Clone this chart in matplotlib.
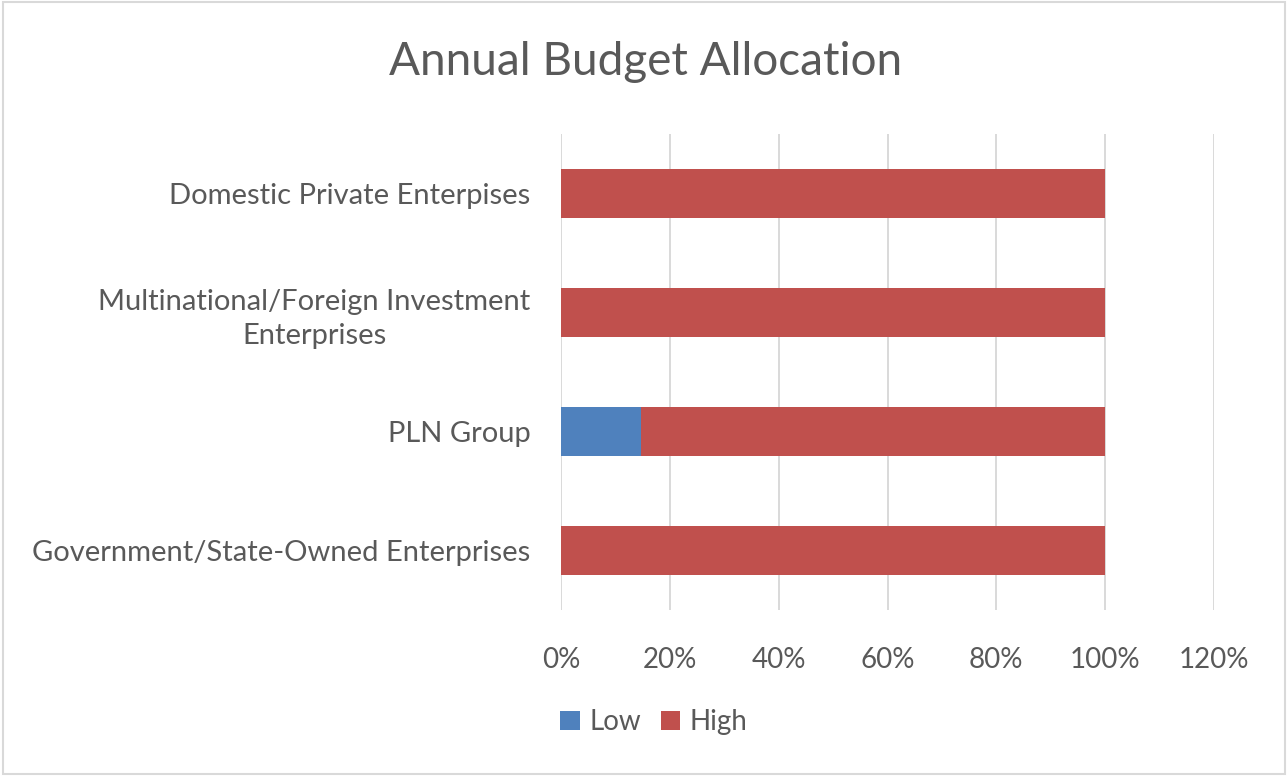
import matplotlib.pyplot as plt
from matplotlib.patches import Rectangle
from matplotlib.ticker import PercentFormatter

plt.rcParams['font.family'] = ['Lato', 'DejaVu Sans']

categories = ['Government/State-Owned Enterprises',
              'PLN Group',
              'Multinational/Foreign Investment\nEnterprises',
              'Domestic Private Enterpises']
low = [0.0, 0.147, 0.0, 0.0]
high = [1.0, 0.853, 1.0, 1.0]
ticks = [0, 0.2, 0.4, 0.6, 0.8, 1.0, 1.2]

BLUE = '#4F81BD'
RED = '#C0504D'
GRAY = '#595959'

fig = plt.figure(figsize=(12.88, 7.76), dpi=100)
ax = fig.add_axes([561 / 1288, 1 - 610 / 776, (1214 - 561) / 1288, (610 - 134) / 776])

y = range(len(categories))
ax.barh(y, low, height=0.41, color=BLUE, label='Low', zorder=3)
ax.barh(y, high, left=low, height=0.41, color=RED, label='High', zorder=3)

ax.set_xlim(0, 1.2)
ax.set_ylim(-0.5, len(categories) - 0.5)
ax.set_xticks(ticks)
ax.xaxis.set_major_formatter(PercentFormatter(1.0, decimals=0))
ax.set_yticks(list(y))
ax.set_yticklabels(categories, multialignment='center', linespacing=1.4)
ax.tick_params(axis='x', length=0, pad=27, labelsize=20, labelcolor=GRAY)
ax.tick_params(axis='y', length=0, pad=22, labelsize=21, labelcolor=GRAY)
ax.grid(axis='x', color='#D9D9D9', linewidth=1.4, zorder=0)
for s in ax.spines.values():
    s.set_visible(False)

fig.text(646 / 1288, 1 - 62 / 776, 'Annual Budget Allocation', ha='center', va='center',
         fontsize=33, color=GRAY)

leg = fig.legend(loc='center', bbox_to_anchor=(654 / 1288, 1 - 722 / 776), ncol=2,
                 frameon=False, fontsize=20, handlelength=0.7, handleheight=0.7,
                 handletextpad=0.35, columnspacing=0.7)
for t in leg.get_texts():
    t.set_color(GRAY)

fig.patches.append(Rectangle((0.002, 0.002), 0.996, 0.996, transform=fig.transFigure,
                             fill=False, edgecolor='#D9D9D9', linewidth=1.5))

fig.savefig('out.png', dpi=100)
